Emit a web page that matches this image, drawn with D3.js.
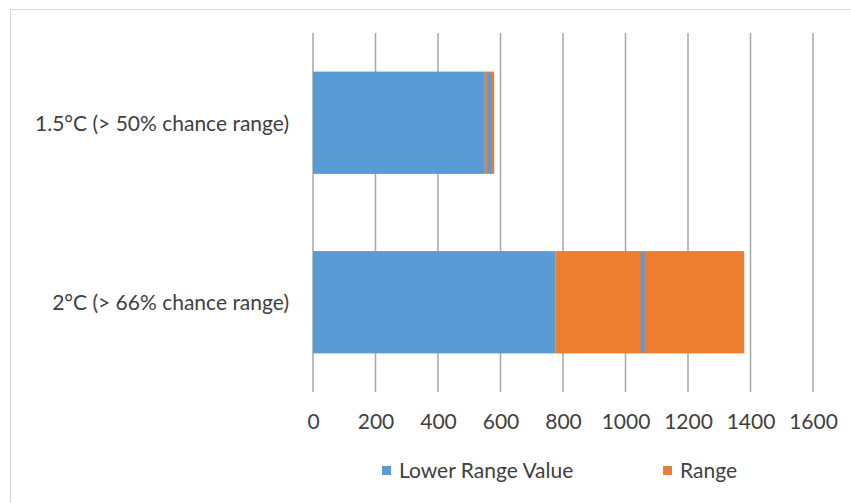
<!DOCTYPE html>
<html><head><meta charset="utf-8">
<script src="https://cdn.jsdelivr.net/npm/d3@7"></script>
<style>body{margin:0;background:#fff;}svg{display:block;}</style>
</head><body>
<svg id="c" width="851" height="503"></svg>
<script>
const categories = ["1.5°C (> 50% chance range)", "2°C (> 66% chance range)"];
const lowerRangeValue = [550, 775];
const rangeValue = [30, 605];
const centralMarker = [565, 1055];
const xTicks = [0, 200, 400, 600, 800, 1000, 1200, 1400, 1600];
const seriesNames = ["Lower Range Value", "Range"];
const colors = ["#5B9BD5", "#ED7D31"];

const svg = d3.select("#c");
const font = "Lato, 'Open Sans', sans-serif";
const textColor = "#404040";
const fs = 21;

// chart border (top/left visible)
svg.append("rect").attr("x", 10.5).attr("y", 9.5).attr("width", 900).attr("height", 600)
  .attr("fill", "none").attr("stroke", "#D9D9D9").attr("stroke-width", 1);

const x = d3.scaleLinear().domain([0, 1600]).range([313, 813]);
const y = d3.scaleBand().domain(categories).range([33, 392]).paddingInner(0.43).paddingOuter(0.215);

// gridlines
svg.append("g").selectAll("line").data(xTicks).join("line")
  .attr("x1", d => x(d)).attr("x2", d => x(d))
  .attr("y1", 33).attr("y2", 392)
  .attr("stroke", "#A6A6A6").attr("stroke-width", 1.5);

// axis labels
const xAxis = d3.axisBottom(x).tickValues(xTicks).tickFormat(d3.format("d")).tickSize(0).tickPadding(0);
const gx = svg.append("g").attr("transform", "translate(0,414)").call(xAxis);
gx.select(".domain").remove();
gx.selectAll("text").attr("font-family", font).attr("font-size", fs).attr("fill", textColor).attr("dy", "0.71em");

// stacked bars
const rows = categories.map((c, i) => ({cat: c, lower: lowerRangeValue[i], range: rangeValue[i], mark: centralMarker[i]}));
const stack = d3.stack().keys(["lower", "range"])(rows);
svg.append("g").selectAll("g").data(stack).join("g")
  .attr("fill", (d, i) => colors[i])
  .selectAll("rect").data(d => d).join("rect")
  .attr("x", d => x(d[0])).attr("width", d => x(d[1]) - x(d[0]))
  .attr("y", d => y(d.data.cat)).attr("height", y.bandwidth());

// central marker
svg.append("g").selectAll("rect").data(rows).join("rect")
  .attr("x", d => x(d.mark) - 2).attr("width", 4)
  .attr("y", d => y(d.cat) + 1).attr("height", y.bandwidth() - 2)
  .attr("fill", colors[0]);

// category labels
svg.append("g").selectAll("text").data(categories).join("text")
  .attr("x", 289).attr("y", d => y(d) + y.bandwidth() / 2 + 8)
  .attr("text-anchor", "end")
  .attr("font-family", font).attr("font-size", fs).attr("fill", textColor)
  .text(d => d);

// legend
const legendX = [382, 663];
const lg = svg.append("g").selectAll("g").data(seriesNames).join("g")
  .attr("transform", (d, i) => `translate(${legendX[i]},0)`);
lg.append("rect").attr("x", 0).attr("y", 466).attr("width", 9).attr("height", 9).attr("fill", (d, i) => colors[i]);
lg.append("text").attr("x", 17).attr("y", 478)
  .attr("font-family", font).attr("font-size", fs).attr("fill", textColor).text(d => d);
</script>
</body></html>
